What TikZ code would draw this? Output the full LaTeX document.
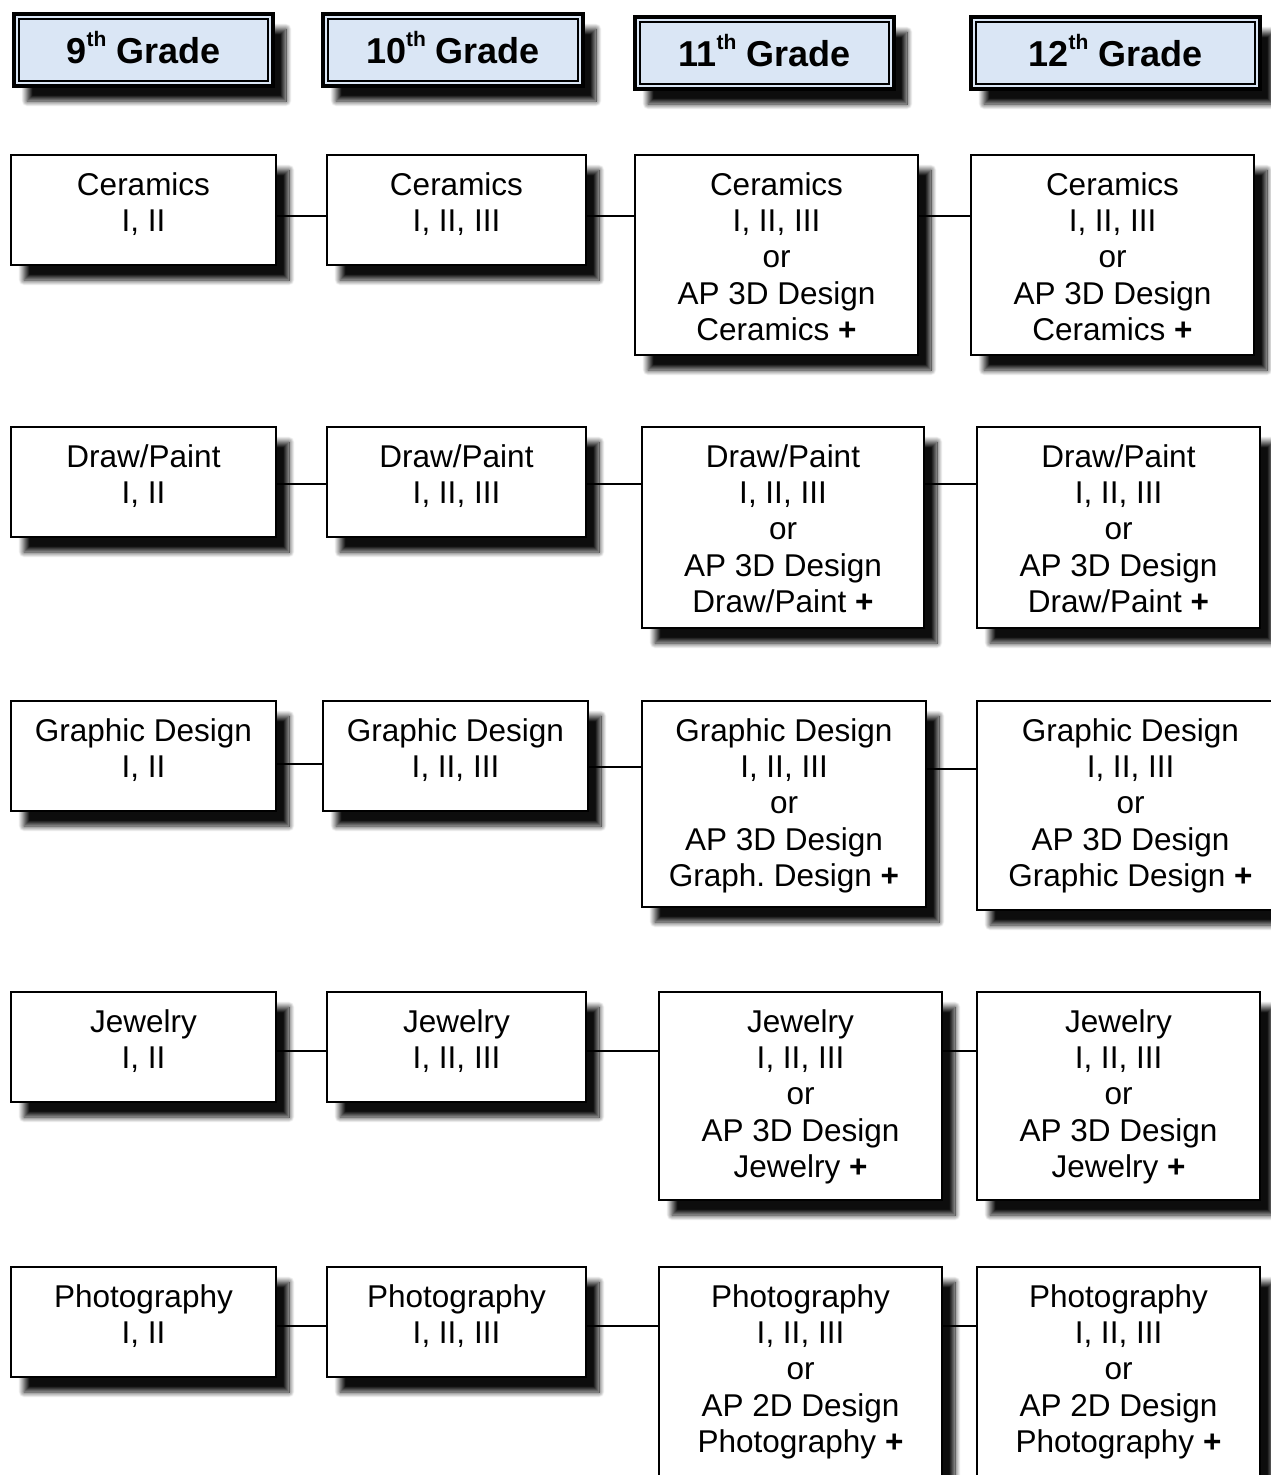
\documentclass[tikz,border=0pt]{standalone}
\usepackage{fontspec}
\setmainfont{Liberation Sans}
\usetikzlibrary{shadows.blur}
\definecolor{hdrblue}{RGB}{218,230,245}
\newcommand{\sth}[1]{\raisebox{17pt}{\fontsize{21}{21}\selectfont #1}}
\begin{document}
\begin{tikzpicture}[x=1pt,y=-1pt,
  shad/.style={blur shadow={shadow xshift=13pt, shadow yshift=-15pt, shadow blur radius=5.5pt, shadow opacity=95, shadow blur steps=16}},
  box/.style={draw, line width=1.8pt, fill=white, inner sep=0pt, shad},
  txt/.style={align=center, inner sep=0pt, anchor=north, font=\fontsize{31.5}{36.3}\selectfont},
  hdr/.style={draw, line width=3.2pt, fill=hdrblue, inner sep=0pt, outer sep=0pt, shad, minimum height=72pt},
  hdrtxt/.style={inner sep=0pt, anchor=base, font=\fontsize{36}{40}\selectfont\bfseries},
  hdrinner/.style={line width=1.8pt},
  link/.style={line width=1.8pt}]
\useasboundingbox (0,0) rectangle (1270,1475);

% headers
\node[hdr, minimum width=259pt] (h9) at (143.5,50) {};
\node[hdr, minimum width=260pt] (h10) at (453,50) {};
\node[hdr, minimum width=259pt] (h11) at (764.5,53) {};
\node[hdr, minimum width=289pt] (h12) at (1115.5,53) {};
\foreach \h in {h9,h10,h11,h12}{
  \draw[hdrinner] ([shift={(5,5)}]\h.north west) rectangle ([shift={(-5,-5)}]\h.south east);
}
\node[hdrtxt] (h9t) at ([yshift=-13pt]h9.center) {9\sth{th} Grade};
\node[hdrtxt] (h10t) at ([yshift=-13pt]h10.center) {10\sth{th} Grade};
\node[hdrtxt] (h11t) at ([yshift=-13pt]h11.center) {11\sth{th} Grade};
\node[hdrtxt] (h12t) at ([yshift=-13pt]h12.center) {12\sth{th} Grade};

% Ceramics
\node[box, minimum width=265pt, minimum height=110pt] (c9) at (143.5,210) {};
\node[box, minimum width=259pt, minimum height=110pt] (c10) at (456.5,210) {};
\node[box, minimum width=283pt, minimum height=200pt] (c11) at (776.5,255) {};
\node[box, minimum width=283pt, minimum height=200pt] (c12) at (1112.5,255) {};
% Draw/Paint
\node[box, minimum width=265pt, minimum height=110pt] (d9) at (143.5,482) {};
\node[box, minimum width=259pt, minimum height=110pt] (d10) at (456.5,482) {};
\node[box, minimum width=282pt, minimum height=201pt] (d11) at (783,527.5) {};
\node[box, minimum width=283pt, minimum height=201pt] (d12) at (1118.5,527.5) {};
% Graphic Design
\node[box, minimum width=265pt, minimum height=110pt] (g9) at (143.5,756) {};
\node[box, minimum width=265pt, minimum height=110pt] (g10) at (455.5,756) {};
\node[box, minimum width=284pt, minimum height=206pt] (g11) at (784,804) {};
\node[box, minimum width=307pt, minimum height=209pt] (g12) at (1130.5,805.5) {};
% Jewelry
\node[box, minimum width=265pt, minimum height=110pt] (j9) at (143.5,1047) {};
\node[box, minimum width=259pt, minimum height=110pt] (j10) at (456.5,1047) {};
\node[box, minimum width=283pt, minimum height=208pt] (j11) at (800.5,1096) {};
\node[box, minimum width=283pt, minimum height=208pt] (j12) at (1118.5,1096) {};
% Photography
\node[box, minimum width=265pt, minimum height=110pt] (p9) at (143.5,1322) {};
\node[box, minimum width=259pt, minimum height=110pt] (p10) at (456.5,1322) {};
\node[box, minimum width=283pt, minimum height=211pt] (p11) at (800.5,1372.5) {};
\node[box, minimum width=283pt, minimum height=211pt] (p12) at (1118.5,1372.5) {};

% texts
\node[txt] (c9t) at ([yshift=-18pt]c9.north) {Ceramics\\I, II};
\node[txt] (c10t) at ([yshift=-18pt]c10.north) {Ceramics\\I, II, III};
\node[txt] (c11t) at ([yshift=-18pt]c11.north) {Ceramics\\I, II, III\\or\\AP 3D Design\\Ceramics \textbf{+}};
\node[txt] (c12t) at ([yshift=-18pt]c12.north) {Ceramics\\I, II, III\\or\\AP 3D Design\\Ceramics \textbf{+}};
\node[txt] (d9t) at ([yshift=-18pt]d9.north) {Draw/Paint\\I, II};
\node[txt] (d10t) at ([yshift=-18pt]d10.north) {Draw/Paint\\I, II, III};
\node[txt] (d11t) at ([yshift=-18pt]d11.north) {Draw/Paint\\I, II, III\\or\\AP 3D Design\\Draw/Paint \textbf{+}};
\node[txt] (d12t) at ([yshift=-18pt]d12.north) {Draw/Paint\\I, II, III\\or\\AP 3D Design\\Draw/Paint \textbf{+}};
\node[txt] (g9t) at ([yshift=-18pt]g9.north) {Graphic Design\\I, II};
\node[txt] (g10t) at ([yshift=-18pt]g10.north) {Graphic Design\\I, II, III};
\node[txt] (g11t) at ([yshift=-18pt]g11.north) {Graphic Design\\I, II, III\\or\\AP 3D Design\\Graph.\ Design \textbf{+}};
\node[txt] (g12t) at ([yshift=-18pt]g12.north) {Graphic Design\\I, II, III\\or\\AP 3D Design\\Graphic Design \textbf{+}};
\node[txt] (j9t) at ([yshift=-18pt]j9.north) {Jewelry\\I, II};
\node[txt] (j10t) at ([yshift=-18pt]j10.north) {Jewelry\\I, II, III};
\node[txt] (j11t) at ([yshift=-18pt]j11.north) {Jewelry\\I, II, III\\or\\AP 3D Design\\Jewelry \textbf{+}};
\node[txt] (j12t) at ([yshift=-18pt]j12.north) {Jewelry\\I, II, III\\or\\AP 3D Design\\Jewelry \textbf{+}};
\node[txt] (p9t) at ([yshift=-18pt]p9.north) {Photography\\I, II};
\node[txt] (p10t) at ([yshift=-18pt]p10.north) {Photography\\I, II, III};
\node[txt] (p11t) at ([yshift=-18pt]p11.north) {Photography\\I, II, III\\or\\AP 2D Design\\Photography \textbf{+}};
\node[txt] (p12t) at ([yshift=-18pt]p12.north) {Photography\\I, II, III\\or\\AP 2D Design\\Photography \textbf{+}};

% connectors
\draw[link] (c9.east |- 0,216) -- (c10.west |- 0,216);
\draw[link] (c10.east |- 0,216) -- (c11.west |- 0,216);
\draw[link] (c11.east |- 0,216) -- (c12.west |- 0,216);
\draw[link] (d9.east |- 0,484) -- (d10.west |- 0,484);
\draw[link] (d10.east |- 0,484) -- (d11.west |- 0,484);
\draw[link] (d11.east |- 0,484) -- (d12.west |- 0,484);
\draw[link] (g9.east |- 0,764) -- (g10.west |- 0,764);
\draw[link] (g10.east |- 0,767) -- (g11.west |- 0,767);
\draw[link] (g11.east |- 0,769) -- (g12.west |- 0,769);
\draw[link] (j9.east |- 0,1051) -- (j10.west |- 0,1051);
\draw[link] (j10.east |- 0,1051) -- (j11.west |- 0,1051);
\draw[link] (j11.east |- 0,1051) -- (j12.west |- 0,1051);
\draw[link] (p9.east |- 0,1326) -- (p10.west |- 0,1326);
\draw[link] (p10.east |- 0,1326) -- (p11.west |- 0,1326);
\draw[link] (p11.east |- 0,1326) -- (p12.west |- 0,1326);
\end{tikzpicture}
\end{document}
